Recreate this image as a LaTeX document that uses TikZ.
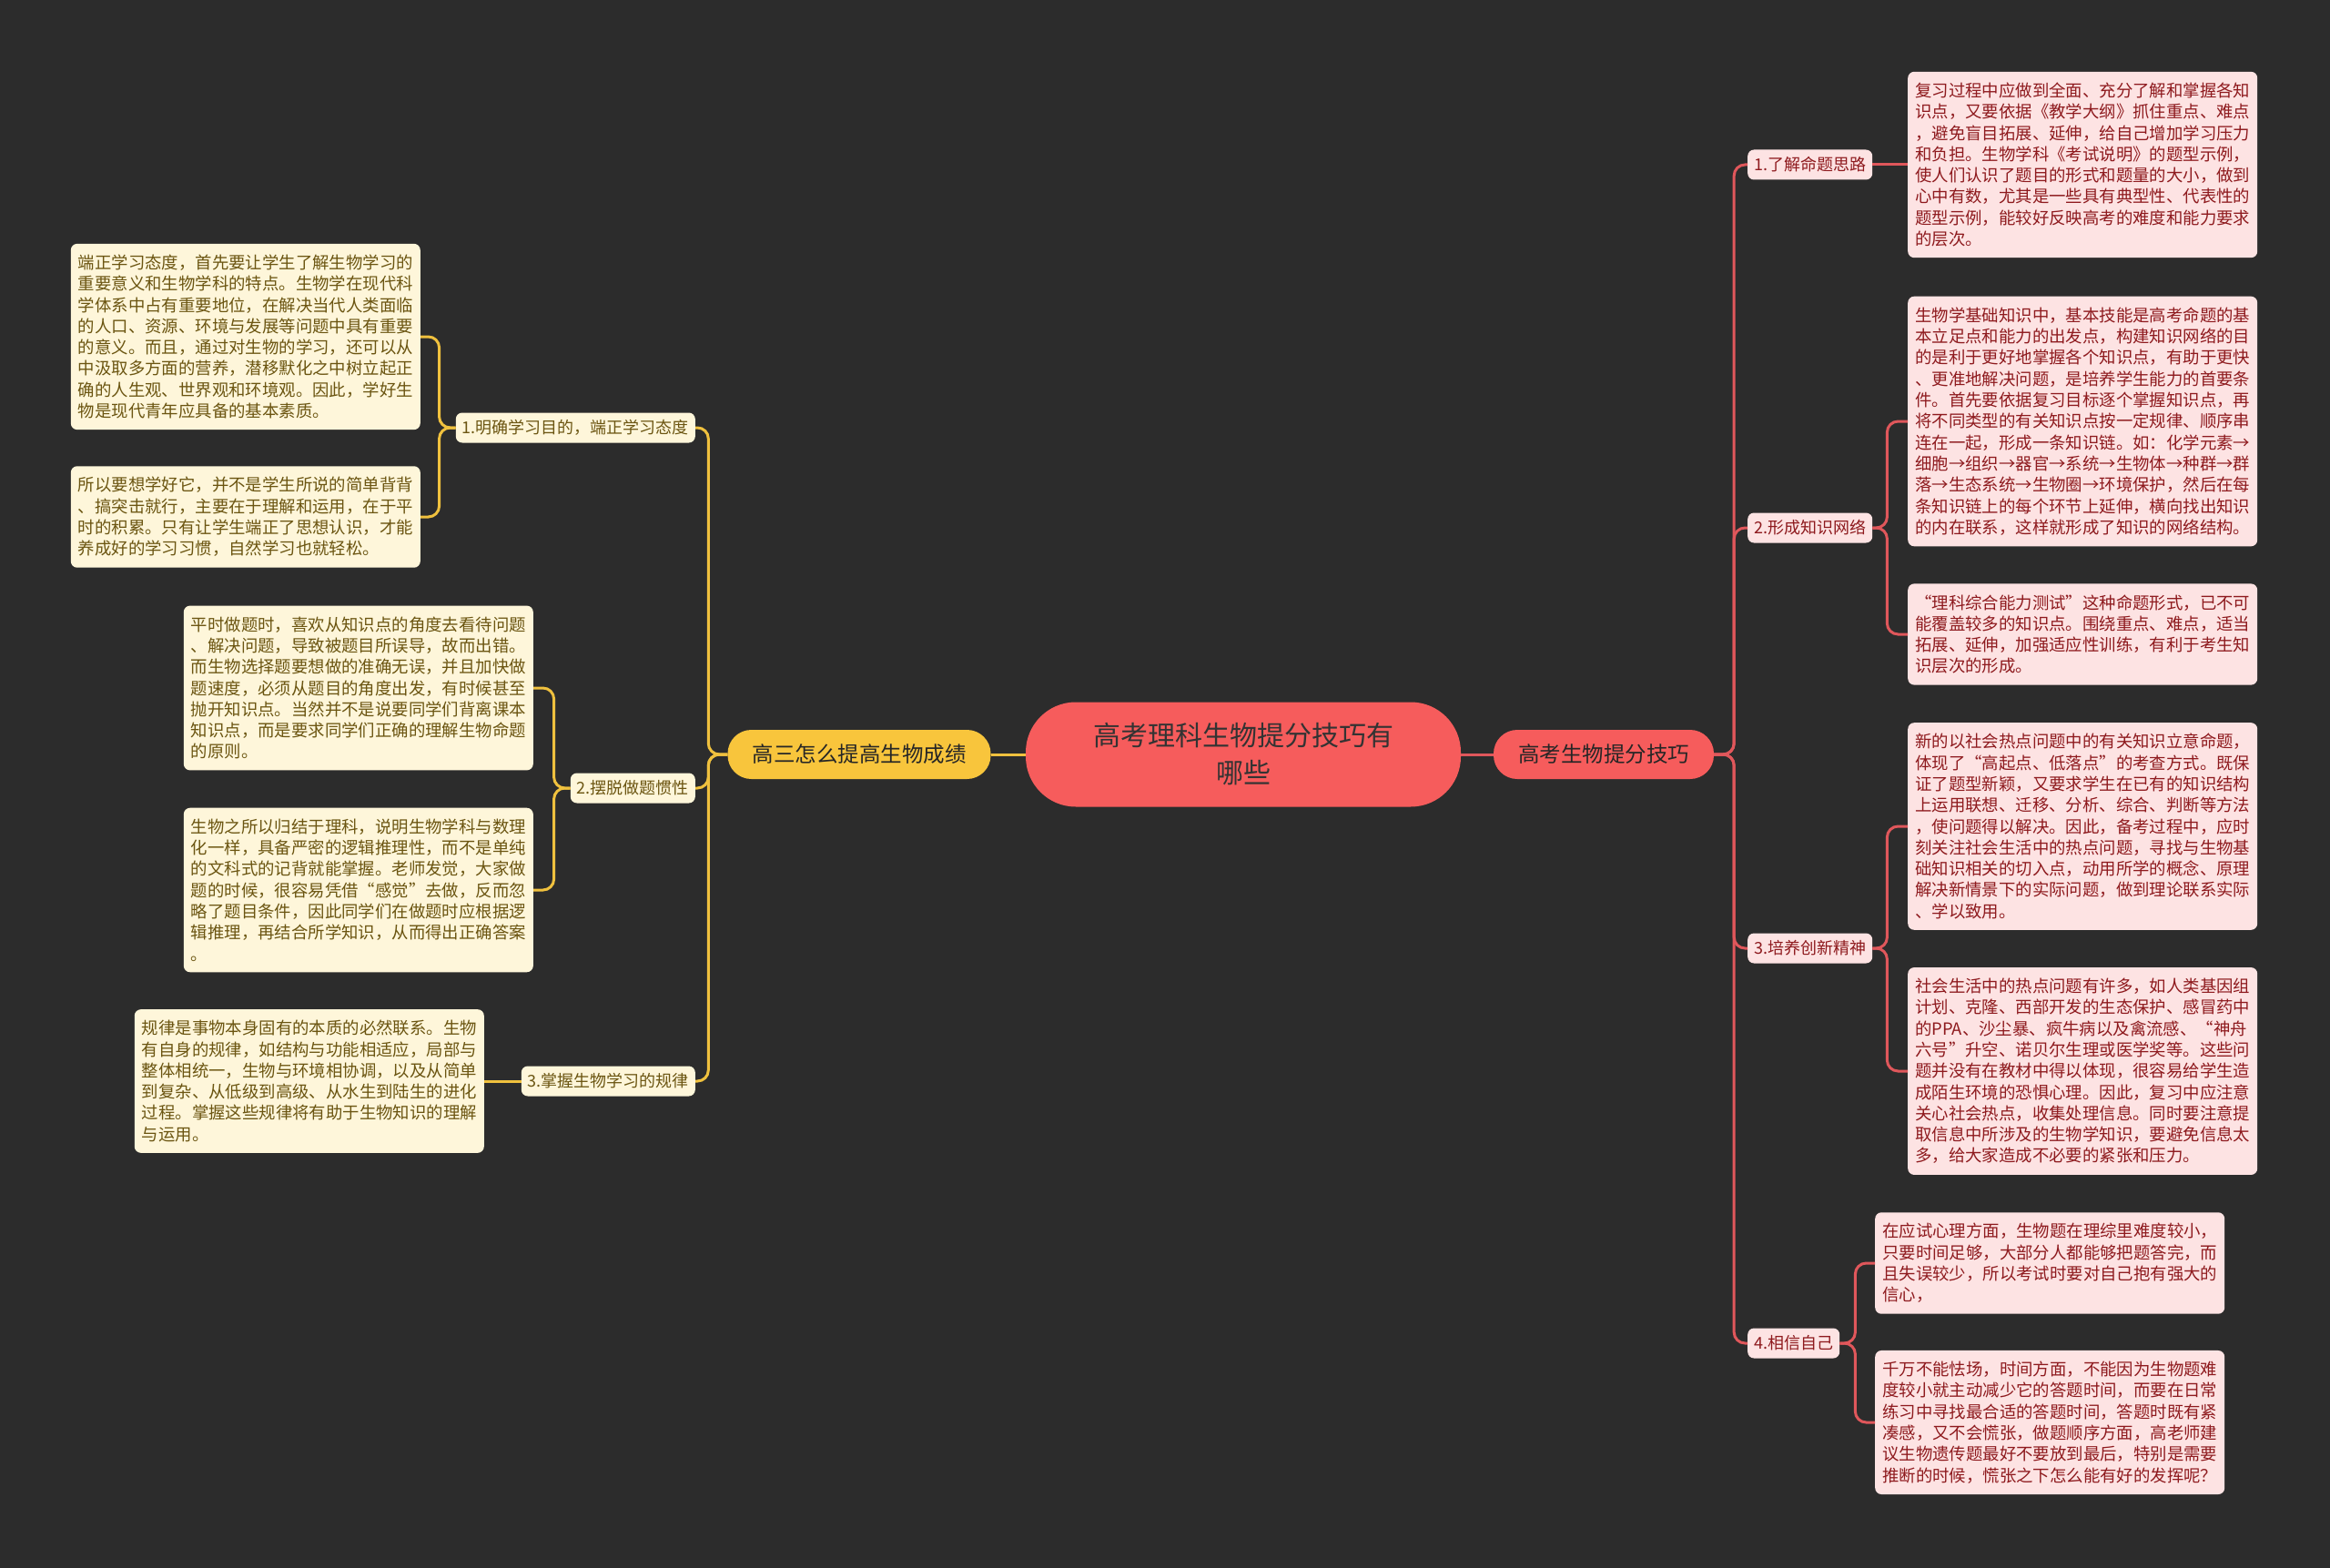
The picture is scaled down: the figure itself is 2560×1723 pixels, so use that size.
\documentclass[tikz,border=0pt]{standalone}
\usepackage{fontspec}
\setmainfont{Noto Sans CJK SC}
\usepackage{xcolor}
\usepackage{tikz}

\definecolor{bgdark}{HTML}{2C2C2C}
\definecolor{rootred}{HTML}{F65C5C}
\definecolor{mainyel}{HTML}{F8C53C}
\definecolor{pinkbox}{HTML}{FDE3E3}
\definecolor{pinktxt}{HTML}{8E1A1E}
\definecolor{creambox}{HTML}{FEF6DA}
\definecolor{creamtxt}{HTML}{6B5511}
\definecolor{redline}{HTML}{E0575B}
\definecolor{yelline}{HTML}{F0C13E}

\tikzset{
  rootbox/.style={fill=rootred, text=black!80, rounded corners=55pt, minimum width=478pt,
    minimum height=115pt, align=center, font=\fontsize{30}{41}\selectfont},
  mainbox/.style={text=black!85, rounded corners=26pt, minimum height=54pt, inner xsep=27pt,
    font=\fontsize{23.5}{26}\selectfont},
  subr/.style={fill=pinkbox, text=pinktxt, rounded corners=7pt, minimum height=33pt,
    inner xsep=7pt, font=\fontsize{18}{20}\selectfont},
  subl/.style={subr, fill=creambox, text=creamtxt},
  leafr/.style={fill=pinkbox, text=pinktxt, rounded corners=7pt, inner xsep=8pt, inner ysep=12pt,
    text width=368pt, align=left, font=\fontsize{18.4}{23.3}\selectfont},
  leafl/.style={leafr, fill=creambox, text=creamtxt},
  redlink/.style={draw=redline, line width=3pt, rounded corners=12pt},
  yellink/.style={draw=yelline, line width=3pt, rounded corners=12pt}
}

\begin{document}
\begin{tikzpicture}[x=1pt, y=-1pt]
  \fill[bgdark] (0,0) rectangle (2560,1723);

  % centre and the two main branches
  \node[rootbox] (root) at (1366,829) {高考理科生物提分技巧有\\哪些};
  \node[mainbox, fill=rootred] (rmain) at (1762,829) {高考生物提分技巧};
  \node[mainbox, fill=mainyel] (lmain) at (944,829) {高三怎么提高生物成绩};
  \draw[redlink] (root.east) -- (rmain.west);
  \draw[yellink] (root.west) -- (lmain.east);

  % right side
  \node[subr, anchor=west] (r1) at (1920,181) {1.了解命题思路};
  \node[subr, anchor=west] (r2) at (1920,580) {2.形成知识网络};
  \node[subr, anchor=west] (r3) at (1920,1042) {3.培养创新精神};
  \node[subr, anchor=west] (r4) at (1920,1476) {4.相信自己};
  \coordinate (rhub) at ([xshift=22pt]rmain.east);
  \foreach \n in {r1,r2,r3,r4}
    \draw[redlink] (rmain.east) -- (rhub) |- (\n.west);

  \node[leafr, anchor=west] (rr1) at (2096,181) {复习过程中应做到全面、充分了解和掌握各知\\
识点，又要依据《教学大纲》抓住重点、难点\\
，避免盲目拓展、延伸，给自己增加学习压力\\
和负担。生物学科《考试说明》的题型示例，\\
使人们认识了题目的形式和题量的大小，做到\\
心中有数，尤其是一些具有典型性、代表性的\\
题型示例，能较好反映高考的难度和能力要求\\
的层次。};
  \draw[redlink] (r1.east) -- (rr1.west);

  \node[leafr, anchor=west] (rr2a) at (2096,463) {生物学基础知识中，基本技能是高考命题的基\\
本立足点和能力的出发点，构建知识网络的目\\
的是利于更好地掌握各个知识点，有助于更快\\
、更准地解决问题，是培养学生能力的首要条\\
件。首先要依据复习目标逐个掌握知识点，再\\
将不同类型的有关知识点按一定规律、顺序串\\
连在一起，形成一条知识链。如：化学元素→\\
细胞→组织→器官→系统→生物体→种群→群\\
落→生态系统→生物圈→环境保护，然后在每\\
条知识链上的每个环节上延伸，横向找出知识\\
的内在联系，这样就形成了知识的网络结构。};
  \node[leafr, anchor=west] (rr2b) at (2096,697) {“理科综合能力测试”这种命题形式，已不可\\
能覆盖较多的知识点。围绕重点、难点，适当\\
拓展、延伸，加强适应性训练，有利于考生知\\
识层次的形成。};
  \coordinate (r2hub) at ([xshift=16pt]r2.east);
  \foreach \n in {rr2a,rr2b}
    \draw[redlink] (r2.east) -- (r2hub) |- (\n.west);

  \node[leafr, anchor=west] (rr3a) at (2096,908) {新的以社会热点问题中的有关知识立意命题，\\
体现了“高起点、低落点”的考查方式。既保\\
证了题型新颖，又要求学生在已有的知识结构\\
上运用联想、迁移、分析、综合、判断等方法\\
，使问题得以解决。因此，备考过程中，应时\\
刻关注社会生活中的热点问题，寻找与生物基\\
础知识相关的切入点，动用所学的概念、原理\\
解决新情景下的实际问题，做到理论联系实际\\
、学以致用。};
  \node[leafr, anchor=west] (rr3b) at (2096,1177) {社会生活中的热点问题有许多，如人类基因组\\
计划、克隆、西部开发的生态保护、感冒药中\\
的PPA、沙尘暴、疯牛病以及禽流感、“神舟\\
六号”升空、诺贝尔生理或医学奖等。这些问\\
题并没有在教材中得以体现，很容易给学生造\\
成陌生环境的恐惧心理。因此，复习中应注意\\
关心社会热点，收集处理信息。同时要注意提\\
取信息中所涉及的生物学知识，要避免信息太\\
多，给大家造成不必要的紧张和压力。};
  \coordinate (r3hub) at ([xshift=16pt]r3.east);
  \foreach \n in {rr3a,rr3b}
    \draw[redlink] (r3.east) -- (r3hub) |- (\n.west);

  \node[leafr, anchor=west] (rr4a) at (2060,1388) {在应试心理方面，生物题在理综里难度较小，\\
只要时间足够，大部分人都能够把题答完，而\\
且失误较少，所以考试时要对自己抱有强大的\\
信心，};
  \node[leafr, anchor=west] (rr4b) at (2060,1563) {千万不能怯场，时间方面，不能因为生物题难\\
度较小就主动减少它的答题时间，而要在日常\\
练习中寻找最合适的答题时间，答题时既有紧\\
凑感，又不会慌张，做题顺序方面，高老师建\\
议生物遗传题最好不要放到最后，特别是需要\\
推断的时候，慌张之下怎么能有好的发挥呢？};
  \coordinate (r4hub) at ([xshift=17pt]r4.east);
  \foreach \n in {rr4a,rr4b}
    \draw[redlink] (r4.east) -- (r4hub) |- (\n.west);

  % left side
  \node[subl, anchor=east] (l1) at (764,470) {1.明确学习目的，端正学习态度};
  \node[subl, anchor=east] (l2) at (764,866) {2.摆脱做题惯性};
  \node[subl, anchor=east] (l3) at (764,1188) {3.掌握生物学习的规律};
  \coordinate (lhub) at ([xshift=-21pt]lmain.west);
  \foreach \n in {l1,l2,l3}
    \draw[yellink] (lmain.west) -- (lhub) |- (\n.east);

  \node[leafl, anchor=east] (ll1a) at (462,370) {端正学习态度，首先要让学生了解生物学习的\\
重要意义和生物学科的特点。生物学在现代科\\
学体系中占有重要地位，在解决当代人类面临\\
的人口、资源、环境与发展等问题中具有重要\\
的意义。而且，通过对生物的学习，还可以从\\
中汲取多方面的营养，潜移默化之中树立起正\\
确的人生观、世界观和环境观。因此，学好生\\
物是现代青年应具备的基本素质。};
  \node[leafl, anchor=east] (ll1b) at (462,568) {所以要想学好它，并不是学生所说的简单背背\\
、搞突击就行，主要在于理解和运用，在于平\\
时的积累。只有让学生端正了思想认识，才能\\
养成好的学习习惯，自然学习也就轻松。};
  \coordinate (l1hub) at ([xshift=-18pt]l1.west);
  \foreach \n in {ll1a,ll1b}
    \draw[yellink] (l1.west) -- (l1hub) |- (\n.east);

  \node[leafl, anchor=east] (ll2a) at (586,756) {平时做题时，喜欢从知识点的角度去看待问题\\
、解决问题，导致被题目所误导，故而出错。\\
而生物选择题要想做的准确无误，并且加快做\\
题速度，必须从题目的角度出发，有时候甚至\\
抛开知识点。当然并不是说要同学们背离课本\\
知识点，而是要求同学们正确的理解生物命题\\
的原则。};
  \node[leafl, anchor=east] (ll2b) at (586,978) {生物之所以归结于理科，说明生物学科与数理\\
化一样，具备严密的逻辑推理性，而不是单纯\\
的文科式的记背就能掌握。老师发觉，大家做\\
题的时候，很容易凭借“感觉”去做，反而忽\\
略了题目条件，因此同学们在做题时应根据逻\\
辑推理，再结合所学知识，从而得出正确答案\\
。};
  \coordinate (l2hub) at ([xshift=-18pt]l2.west);
  \foreach \n in {ll2a,ll2b}
    \draw[yellink] (l2.west) -- (l2hub) |- (\n.east);

  \node[leafl, anchor=east] (ll3) at (532,1188) {规律是事物本身固有的本质的必然联系。生物\\
有自身的规律，如结构与功能相适应，局部与\\
整体相统一，生物与环境相协调，以及从简单\\
到复杂、从低级到高级、从水生到陆生的进化\\
过程。掌握这些规律将有助于生物知识的理解\\
与运用。};
  \draw[yellink] (l3.west) -- (ll3.east);
\end{tikzpicture}
\end{document}
